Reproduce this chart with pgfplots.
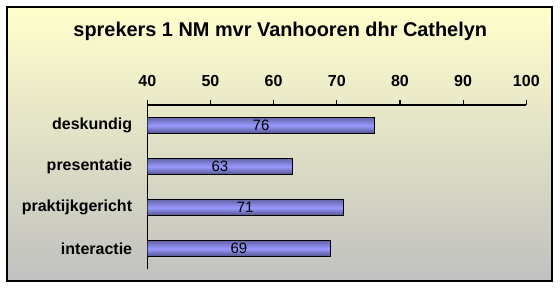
\documentclass[border=0pt]{standalone}
\usepackage{pgfplots}
\pgfplotsset{compat=1.18}
\usepackage{fontspec}
\setmainfont{Liberation Sans}
\definecolor{bgtop}{HTML}{FFFFCC}
\definecolor{bgbot}{HTML}{C0C0C0}
\definecolor{bartop}{HTML}{6666AA}
\definecolor{barmid}{HTML}{9999FF}
\definecolor{barbot}{HTML}{505088}
\begin{document}
\begin{tikzpicture}[x=1bp,y=1bp]
\fill[white] (0,0) rectangle (560,288);
\shade[top color=bgtop, bottom color=bgbot] (7,7) rectangle (552,281);
\draw[line width=1.2bp] (7,7) rectangle (552,281);
\node[anchor=base, inner sep=0pt, font=\fontsize{19.9bp}{22bp}\selectfont\bfseries] at (280.3,251.3) {sprekers 1 NM mvr Vanhooren dhr Cathelyn};
\begin{axis}[
  at={(147.3bp,18.7bp)}, anchor=south west,
  scale only axis, width=379bp, height=164.3bp,
  xmin=40, xmax=100, ymin=-0.5, ymax=3.5,
  axis x line*=top, axis y line*=left,
  axis line style={line width=1.2bp, black},
  xtick={40,50,...,100},
  xtick align=outside,
  major tick length=5bp,
  every tick/.style={black, line width=1.2bp},
  ytick={0,1,2,3},
  yticklabels={interactie, praktijkgericht, presentatie, deskundig},
  ytick style={draw=none},
  /pgf/number format/assume math mode=true,
  xticklabel style={font=\fontsize{16bp}{18bp}\selectfont\bfseries, inner sep=0pt, yshift=13bp},
  yticklabel style={font=\fontsize{16bp}{18bp}\selectfont\bfseries, inner sep=0pt, xshift=-15bp},
  clip=true,
  barstyle/.style={xbar, bar width=16bp, bar shift=0pt, draw=black, line width=1.2bp,
    top color=bartop, bottom color=barbot, middle color=barmid},
]
\addplot[barstyle] coordinates {(76,3)};
\addplot[barstyle] coordinates {(63,2)};
\addplot[barstyle] coordinates {(71,1)};
\addplot[barstyle] coordinates {(69,0)};
\addplot[only marks, mark=none, nodes near coords, point meta=explicit symbolic,
  every node near coord/.style={anchor=center, font=\fontsize{15bp}{17bp}\selectfont, text=black}]
  coordinates {(58,3)[76] (51.5,2)[63] (55.5,1)[71] (54.5,0)[69]};
\end{axis}
\end{tikzpicture}
\end{document}
